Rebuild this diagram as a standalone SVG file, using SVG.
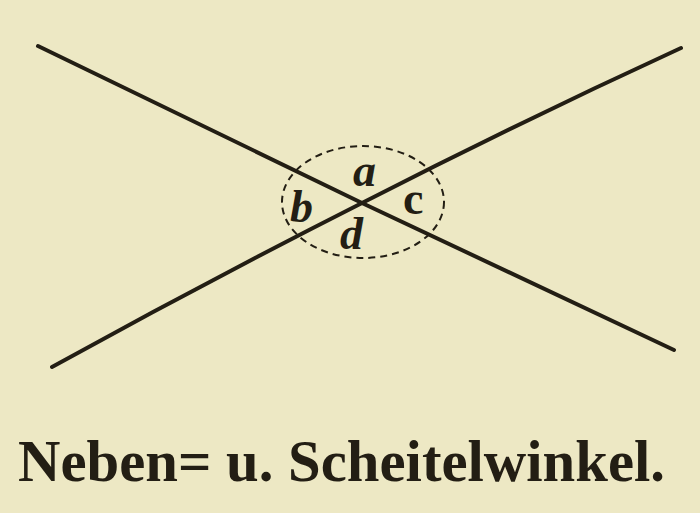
<svg xmlns="http://www.w3.org/2000/svg" width="700" height="513" viewBox="0 0 700 513">
<style>
.ln{fill:none;stroke:#231e14;stroke-width:4;stroke-linecap:round;stroke-linejoin:round}
.arc{fill:none;stroke:#231e14;stroke-width:2;stroke-dasharray:7 5}
.lbl{font-family:"Liberation Serif","DejaVu Serif",serif;font-size:46px;font-weight:bold;fill:#231e14}
.it{font-style:italic}
.cap{font-family:"Liberation Serif","DejaVu Serif",serif;font-size:60px;font-weight:bold;fill:#231e14}
</style>
<rect width="700" height="513" fill="#ede8c4"/>
<g id="lines">
<path class="ln" d="M38,46 Q200,124 362,203 Q520,278 674,350"/>
<path class="ln" d="M52,367 Q206,282 362,203 Q520,122 681,48"/>
</g>
<g id="angles">
<ellipse class="arc" cx="363" cy="202" rx="81" ry="56"/>
<text class="lbl it" x="353" y="186">a</text>
<text class="lbl it" x="290" y="222">b</text>
<text class="lbl" x="403" y="214">c</text>
<text class="lbl it" x="340" y="249">d</text>
</g>
<text class="cap" x="18" y="481" textLength="647" lengthAdjust="spacingAndGlyphs">Neben= u. Scheitelwinkel.</text>
</svg>
